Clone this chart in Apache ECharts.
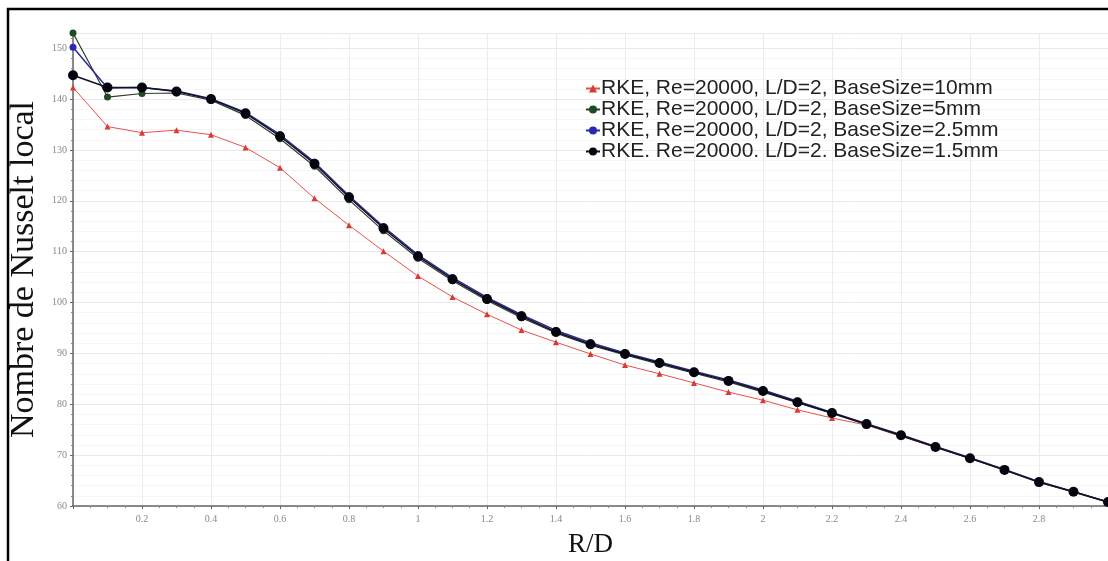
<!DOCTYPE html>
<html>
<head>
<meta charset="utf-8">
<script src="https://cdn.jsdelivr.net/npm/echarts@6/dist/echarts.min.js"></script>
<style>
html,body{margin:0;padding:0;background:#fff;}
#chart{width:1108px;height:561px;}
</style>
</head>
<body>
<div id="chart"></div>
<script>
var rd = [0,0.1,0.2,0.3,0.4,0.5,0.6,0.7,0.8,0.9,1.0,1.1,1.2,1.3,1.4,1.5,1.6,1.7,1.8,1.9,2.0,2.1,2.2,2.3,2.4,2.5,2.6,2.7,2.8,2.9,3.0];
var nu10mm = [142.3,134.6,133.4,133.9,133.0,130.5,126.5,120.5,115.2,110.1,105.2,101.1,97.7,94.6,92.2,89.9,87.7,86.0,84.2,82.4,80.8,78.9,77.3,75.9,73.7,71.5,69.3,67.0,64.6,62.7,60.7];
var nu5mm = [153.0,140.4,141.1,141.2,139.8,136.8,132.2,126.8,120.2,114.1,108.7,104.3,100.4,97.0,94.0,91.6,89.7,87.9,86.1,84.4,82.4,80.3,78.2,76.0,73.8,71.6,69.4,67.1,64.7,62.8,60.8];
var nu25mm = [150.2,142.2,142.3,141.6,140.1,137.4,133.0,127.6,121.0,114.9,109.4,104.9,101.0,97.6,94.5,92.1,90.1,88.3,86.5,84.8,82.8,80.6,78.4,76.2,74.0,71.7,69.5,67.2,64.8,62.8,60.8];
var nu15mm = [144.7,142.3,142.3,141.5,140.0,137.2,132.7,127.3,120.7,114.6,109.1,104.6,100.7,97.3,94.2,91.8,89.9,88.1,86.3,84.6,82.6,80.4,78.3,76.1,73.9,71.6,69.4,67.1,64.7,62.8,60.8];
var seriesNames = [
  'RKE, Re=20000, L/D=2, BaseSize=10mm',
  'RKE, Re=20000, L/D=2, BaseSize=5mm',
  'RKE, Re=20000, L/D=2, BaseSize=2.5mm',
  'RKE. Re=20000. L/D=2. BaseSize=1.5mm'
];
var xTitle = 'R/D';
var yTitle = 'Nombre de Nusselt local';

function pairs(ys){ return rd.map(function(x,i){ return [x, ys[i]]; }); }

var chart = echarts.init(document.getElementById('chart'), null, {renderer:'canvas'});
var tickLabel = {fontFamily:'Liberation Serif', fontSize:10, color:'#888'};
chart.setOption({
  animation:false,
  backgroundColor:'#fff',
  grid:{left:73, right:0, top:33, bottom:55, containLabel:false, outerBoundsMode:'none'},
  legend:{
    orient:'vertical', left:580, top:73, itemGap:0,
    itemWidth:14, itemHeight:10,
    textStyle:{fontFamily:'Liberation Sans', fontSize:21, color:'#222', lineHeight:21, padding:[0,0,0,-4]},
    data:seriesNames
  },
  xAxis:{
    type:'value', min:0, max:3, interval:0.2,
    name:xTitle, nameLocation:'middle', nameGap:25,
    nameTextStyle:{fontFamily:'Liberation Serif', fontSize:27, color:'#111'},
    axisLine:{lineStyle:{color:'#666', width:1.5}},
    axisTick:{show:true, length:3, lineStyle:{color:'#666'}},
    minorTick:{show:true, splitNumber:4, length:2, lineStyle:{color:'#888'}},
    axisLabel:Object.assign({showMinLabel:false, showMaxLabel:false, margin:8}, tickLabel),
    splitLine:{show:true, lineStyle:{color:'#ececec'}},
    minorSplitLine:{show:false}
  },
  yAxis:{
    type:'value', min:60, max:153, interval:10,
    name:yTitle, nameLocation:'middle', nameGap:30,
    nameTextStyle:{fontFamily:'Liberation Serif', fontSize:34, color:'#111'},
    axisLine:{show:true, lineStyle:{color:'#666', width:1.5}},
    axisTick:{show:true, length:3, lineStyle:{color:'#666'}},
    minorTick:{show:true, splitNumber:5, length:2, lineStyle:{color:'#888'}},
    axisLabel:Object.assign({showMaxLabel:false, margin:6}, tickLabel),
    splitLine:{show:true, lineStyle:{color:'#e9e9e9'}},
    minorSplitLine:{show:true, lineStyle:{color:'#f5f5f5'}}
  },
  series:[
    {name:seriesNames[0], type:'line', data:pairs(nu10mm), symbol:'triangle', symbolSize:6,
     lineStyle:{color:'#e8504a', width:1}, itemStyle:{color:'#d83a36'}, z:2},
    {name:seriesNames[1], type:'line', data:pairs(nu5mm), symbol:'circle', symbolSize:7,
     lineStyle:{color:'#2c3a2c', width:1.2}, itemStyle:{color:'#1f4a22'}, z:3},
    {name:seriesNames[2], type:'line', data:pairs(nu25mm), symbol:'circle', symbolSize:7,
     lineStyle:{color:'#2c2c9a', width:1.5}, itemStyle:{color:'#2a2ab0'}, z:4},
    {name:seriesNames[3], type:'line', data:pairs(nu15mm), symbol:'circle', symbolSize:10,
     lineStyle:{color:'#111122', width:1.5}, itemStyle:{color:'#050510'}, z:5}
  ],
  graphic:[
    {type:'rect', shape:{x:8, y:9, width:1200, height:700}, style:{fill:null, stroke:'#000', lineWidth:2.5}, silent:true, z:100}
  ]
});
</script>
</body>
</html>
